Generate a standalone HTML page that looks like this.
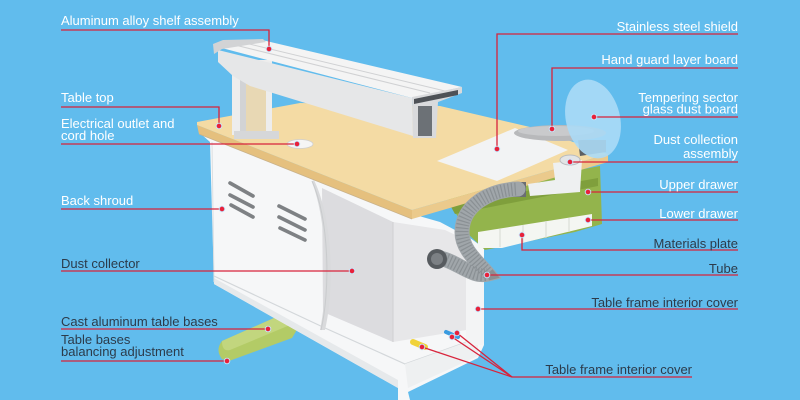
<!DOCTYPE html>
<html><head><meta charset="utf-8"><style>
html,body{margin:0;padding:0;background:#61bced;}
svg{display:block;}
text{font-family:"Liberation Sans",Arial,sans-serif;font-size:13px;}
.w{fill:#ffffff;}
.d{fill:#2c3b4b;}
.ln{stroke:#d8233b;stroke-width:1.3;fill:none;}
.dot{fill:#e8213a;stroke:#c4e8ff;stroke-width:0.9;}
</style></head><body>
<svg width="800" height="400" viewBox="0 0 800 400" xmlns="http://www.w3.org/2000/svg">
<rect x="0" y="0" width="800" height="400" fill="#61bced"/>

<!-- green foot -->
<path d="M222,341 Q215,350 222,359 L229,361 L292,338 L298,328 L274,318 Z" fill="#b3cb66"/>
<path d="M222,341 L274,318 L290,325 L230,350 Q222,352 222,341 Z" fill="#c2d67e"/>

<!-- cabinet silhouette -->
<path d="M200,133 L412,214 L440,222 L470,238 L484,248 L484,345 L478,358 L408,392 L410,400 L398,400 L398,388 L214,284 L210,142 Z" fill="#f6f7f8"/>
<path d="M214,276 L325,328 L405,364 L478,338" stroke="#d3d7da" stroke-width="1.2" fill="none"/>
<path d="M214,284 L398,388 L398,380 L214,278 Z" fill="#e6e9eb"/>
<path d="M405,364 L478,338 L478,356 L408,388 Z" fill="#eef0f1"/>
<line x1="212" y1="142" x2="214" y2="282" stroke="#dcdfe1" stroke-width="1"/>

<!-- dust collector box -->
<path d="M322,188 L393,222 L393,342 L323,312 Z" fill="#dcdcdf"/>
<path d="M393,222 L445,230 L466,240 L466,330 L393,342 Z" fill="#e7e7e9"/>
<line x1="393" y1="222" x2="393" y2="342" stroke="#cfcfd2" stroke-width="1"/>
<path d="M314,180 C334,222 334,292 325,330 L320,330 C328,292 328,225 312,182 Z" fill="#d9dadc"/>
<path d="M312,181 C330,222 330,292 321,330" stroke="#c9cbcd" stroke-width="1" fill="none"/>
<path d="M466,262 L484,268 L484,345 L466,345 Z" fill="#f3f4f5"/>

<!-- vents -->
<g stroke="#7e8184" stroke-width="3.6" stroke-linecap="round" fill="none">
<line x1="230" y1="183" x2="253" y2="196"/>
<line x1="230" y1="195" x2="253" y2="207"/>
<line x1="231" y1="205" x2="253" y2="217"/>
<line x1="279" y1="206" x2="305" y2="219"/>
<line x1="279" y1="217" x2="305" y2="230"/>
<line x1="280" y1="228" x2="305" y2="240"/>
</g>

<!-- green drawers -->
<path d="M445,195 L600,166 L602,224 L575,232 L485,250 L468,234 Z" fill="#93b44c"/>
<path d="M450,205 L598,178 L598,186 L455,214 Z" fill="#7f9f3c"/>
<path d="M478,232 L592,214 L592,226 L502,248 L478,248 Z" fill="#f4f6f2"/>
<g stroke="#d6dad3" stroke-width="1"><line x1="500" y1="229" x2="500" y2="247"/><line x1="523" y1="225" x2="523" y2="243"/><line x1="546" y1="221" x2="546" y2="238"/><line x1="569" y1="218" x2="569" y2="232"/></g>

<!-- table top wood -->
<path d="M197,125 L412,210 L412,219 L199,134 Z" fill="#e5c07e"/>
<path d="M412,210 L608,154 L608,162 L412,219 Z" fill="#ebca8c"/>
<path d="M197,122 L300,103 L440,106 L530,127 L608,154 L412,210 L197,125 Z" fill="#f4dba4"/>
<line x1="199" y1="134" x2="412" y2="219" stroke="#c9b28a" stroke-width="0.8"/>

<!-- stainless shield -->
<path d="M437,161 L515,128 L568,150 L497,181 Z" fill="#f2f3f4"/>
<path d="M578,140 L606,140 L606,152 L580,156 Z" fill="#5c5f62"/>
<ellipse cx="560" cy="133" rx="46" ry="8" fill="#b8b9bb"/>
<ellipse cx="556" cy="131" rx="38" ry="5" fill="#c9cacc"/>
<ellipse cx="593" cy="119" rx="27" ry="40" transform="rotate(-14 593 119)" fill="#abdaf6" opacity="0.9"/>
<path d="M553,163 L582,160 L580,192 L530,196 L528,184 L555,180 Z" fill="#eef0f1"/>
<ellipse cx="570" cy="160" rx="10" ry="5" fill="#e2e4e6" stroke="#b9bcbf" stroke-width="1"/>
<rect x="512" y="182" width="14" height="15" fill="#6a6e72"/>

<!-- tube -->
<path d="M440,258 C458,262 472,278 488,274 C478,262 462,250 462,232 C462,205 490,190 518,189" stroke="#a0a6aa" stroke-width="15" fill="none" stroke-linecap="round"/>
<path d="M440,258 C458,262 472,278 488,274 C478,262 462,250 462,232 C462,205 490,190 518,189" stroke="#8a9094" stroke-width="13" fill="none" stroke-dasharray="1.2 2.2"/>
<circle cx="437" cy="259" r="10" fill="#575b5f"/>
<circle cx="437" cy="259" r="6" fill="#7c8084"/>

<!-- wires -->
<line x1="413" y1="342" x2="425" y2="347" stroke="#f0d23a" stroke-width="6" stroke-linecap="round"/>
<line x1="446" y1="332" x2="458" y2="337" stroke="#3a9be0" stroke-width="4" stroke-linecap="round"/>

<!-- shelf column -->
<rect x="232" y="60" width="40" height="75" fill="#ededed"/>
<rect x="246" y="74" width="20" height="58" fill="#e8d8b4"/>
<rect x="240" y="62" width="6" height="70" fill="#d2d3d5"/>
<rect x="234" y="131" width="45" height="8" fill="#d6d7d9"/>
<!-- shelf beam -->
<path d="M218,50 L412,98 L413,136 L250,86 L233,76 L218,62 Z" fill="#e6e7e8"/>
<path d="M218,47 L262,40 L462,87 L412,98 Z" fill="#f4f4f4"/>
<g stroke="#d0d1d3" stroke-width="1"><line x1="235" y1="45" x2="430" y2="93"/><line x1="245" y1="43" x2="445" y2="91"/></g>
<path d="M213,44 L223,40 L263,39 L266,42 L222,49 L214,54 Z" fill="#d2d3d5"/>
<path d="M412,97 L462,87 L462,93 L438,102 L436,138 L413,138 Z" fill="#d9dadc"/>
<rect x="418" y="106" width="14" height="30" fill="#6c7176"/>
<path d="M414,99 L458,90 L458,95 L414,104 Z" fill="#4e5257"/>

<ellipse cx="300" cy="144" rx="13" ry="4.5" fill="#f5f5f5" stroke="#cfcfcf" stroke-width="0.8"/>

<!-- leader lines -->
<g class="ln">
<polyline points="61,30 269,30 269,49"/>
<polyline points="61,107 219,107 219,126"/>
<polyline points="61,144 297,144"/>
<polyline points="61,209 222,209"/>
<polyline points="61,271 352,271"/>
<polyline points="61,329 268,329"/>
<polyline points="61,361 227,361"/>
<polyline points="738,34 497,34 497,149"/>
<polyline points="738,68 552,68 552,129"/>
<polyline points="738,117 594,117"/>
<polyline points="738,162 570,162"/>
<polyline points="738,192 588,192"/>
<polyline points="738,220 588,220"/>
<polyline points="738,250 522,250 522,235"/>
<polyline points="738,275 487,275"/>
<polyline points="738,309 478,309"/>
<polyline points="692,377 512,377"/>
<line x1="512" y1="377" x2="422" y2="347"/>
<line x1="512" y1="377" x2="452" y2="337"/>
<line x1="512" y1="377" x2="457" y2="333"/>
</g>
<g class="dot">
<circle cx="269" cy="49" r="2.8"/>
<circle cx="219" cy="126" r="2.8"/>
<circle cx="297" cy="144" r="2.8"/>
<circle cx="222" cy="209" r="2.8"/>
<circle cx="352" cy="271" r="2.8"/>
<circle cx="268" cy="329" r="2.8"/>
<circle cx="227" cy="361" r="2.8"/>
<circle cx="497" cy="149" r="2.8"/>
<circle cx="552" cy="129" r="2.8"/>
<circle cx="594" cy="117" r="2.8"/>
<circle cx="570" cy="162" r="2.8"/>
<circle cx="588" cy="192" r="2.8"/>
<circle cx="588" cy="220" r="2.8"/>
<circle cx="522" cy="235" r="2.8"/>
<circle cx="487" cy="275" r="2.8"/>
<circle cx="478" cy="309" r="2.8"/>
<circle cx="422" cy="347" r="2.8"/>
<circle cx="452" cy="337" r="2.8"/>
<circle cx="457" cy="333" r="2.8"/>
</g>

<text class="w" x="61" y="25">Aluminum alloy shelf assembly</text>
<text class="w" x="61" y="102">Table top</text>
<text class="w" x="61" y="128">Electrical outlet and</text>
<text class="w" x="61" y="140">cord hole</text>
<text class="w" x="61" y="205">Back shroud</text>
<text class="d" x="61" y="268">Dust collector</text>
<text class="d" x="61" y="326">Cast aluminum table bases</text>
<text class="d" x="61" y="344">Table bases</text>
<text class="d" x="61" y="356">balancing adjustment</text>

<g text-anchor="end">
<text class="w" x="738" y="31">Stainless steel shield</text>
<text class="w" x="738" y="64">Hand guard layer board</text>
<text class="w" x="738" y="102">Tempering sector</text>
<text class="w" x="738" y="113.5">glass dust board</text>
<text class="w" x="738" y="144">Dust collection</text>
<text class="w" x="738" y="158">assembly</text>
<text class="w" x="738" y="189">Upper drawer</text>
<text class="w" x="738" y="218">Lower drawer</text>
<text class="d" x="738" y="248">Materials plate</text>
<text class="d" x="738" y="273">Tube</text>
<text class="d" x="738" y="307">Table frame interior cover</text>
<text class="d" x="692" y="374">Table frame interior cover</text>
</g>
</svg>
</body></html>
